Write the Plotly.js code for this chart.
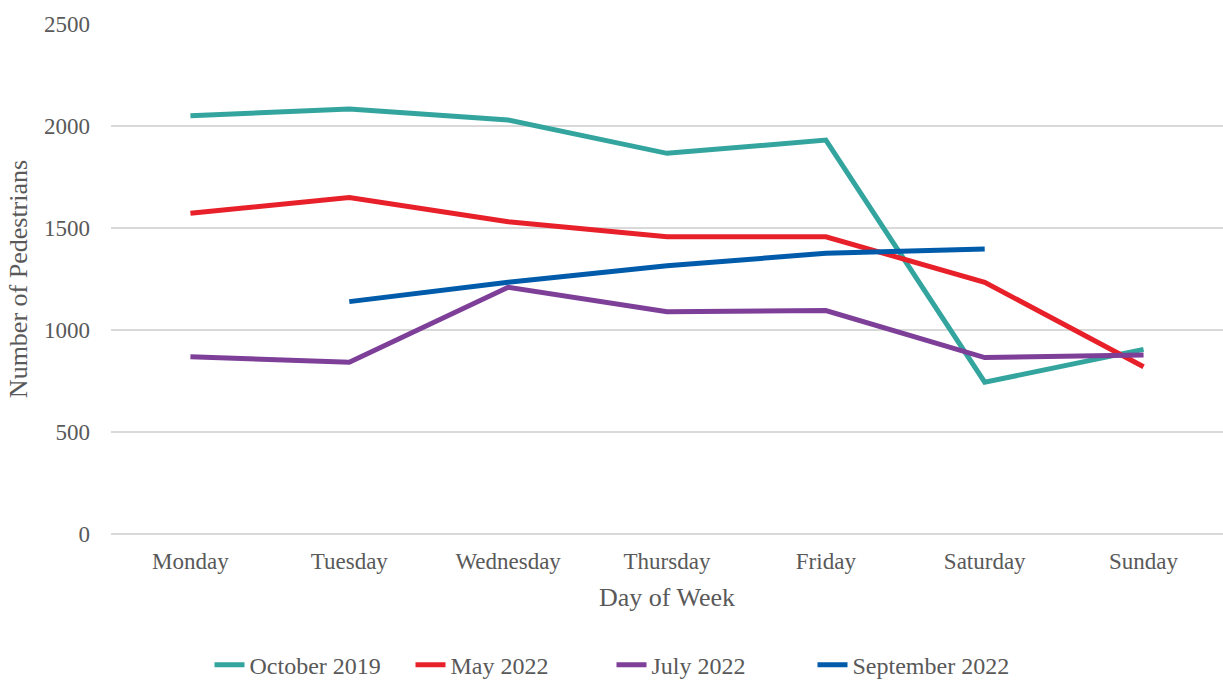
<!DOCTYPE html>
<html>
<head>
<meta charset="utf-8">
<script src="https://cdn.plot.ly/plotly-3.0.1.min.js"></script>
<style>html,body{margin:0;padding:0;background:#fff;}#chart{width:1223px;height:680px;}</style>
</head>
<body>
<div id="chart"></div>
<script>
const days = ["Monday", "Tuesday", "Wednesday", "Thursday", "Friday", "Saturday", "Sunday"];
const october2019 = [2050, 2083, 2029, 1866, 1931, 744, 905];
const may2022 = [1572, 1649, 1531, 1457, 1457, 1234, 820];
const july2022 = [869, 842, 1209, 1090, 1095, 865, 877];
const september2022 = [null, 1139, 1234, 1315, 1376, 1397, null];
const seriesNames = ["October 2019", "May 2022", "July 2022", "September 2022"];
const seriesColors = ["#33A59E", "#E8202A", "#7D3F98", "#005BAA"];
const seriesValues = [october2019, may2022, july2022, september2022];

const FONT = "Liberation Serif, Times New Roman, serif";

const traces = seriesValues.map((vals, i) => ({
  type: "scatter",
  mode: "lines",
  x: days,
  y: vals,
  name: seriesNames[i],
  line: {color: seriesColors[i], width: 5},
  connectgaps: false
}));

const layout = {
  width: 1223,
  height: 680,
  margin: {l: 111, r: 0, t: 24, b: 146},
  paper_bgcolor: "#ffffff",
  plot_bgcolor: "#ffffff",
  font: {family: FONT, color: "#595959", size: 23},
  showlegend: true,
  legend: {
    orientation: "h",
    xref: "container",
    yref: "container",
    x: 0.5,
    xanchor: "center",
    y: 0.022,
    yanchor: "middle",
    entrywidth: 156,
    font: {family: FONT, size: 24, color: "#595959"},
    tracegroupgap: 0
  },
  xaxis: {
    type: "category",
    range: [-0.5, 6.5],
    showgrid: false,
    zeroline: false,
    showline: false,
    ticks: "",
    tickfont: {family: FONT, size: 23, color: "#595959"},
    ticklabelstandoff: 11,
    title: {text: "Day of Week", font: {family: FONT, size: 26, color: "#595959"}, standoff: 14}
  },
  yaxis: {
    range: [0, 2500],
    dtick: 500,
    showgrid: true,
    gridcolor: "#d9d9d9",
    gridwidth: 1.3,
    zeroline: true,
    zerolinecolor: "#d9d9d9",
    zerolinewidth: 1.3,
    showline: false,
    ticks: "",
    tickfont: {family: FONT, size: 23, color: "#595959"},
    ticklabelstandoff: 20,
    title: {text: "Number of Pedestrians", font: {family: FONT, size: 26, color: "#595959"}, standoff: 8}
  }
};

Plotly.newPlot("chart", traces, layout, {displayModeBar: false, staticPlot: true});
</script>
</body>
</html>
